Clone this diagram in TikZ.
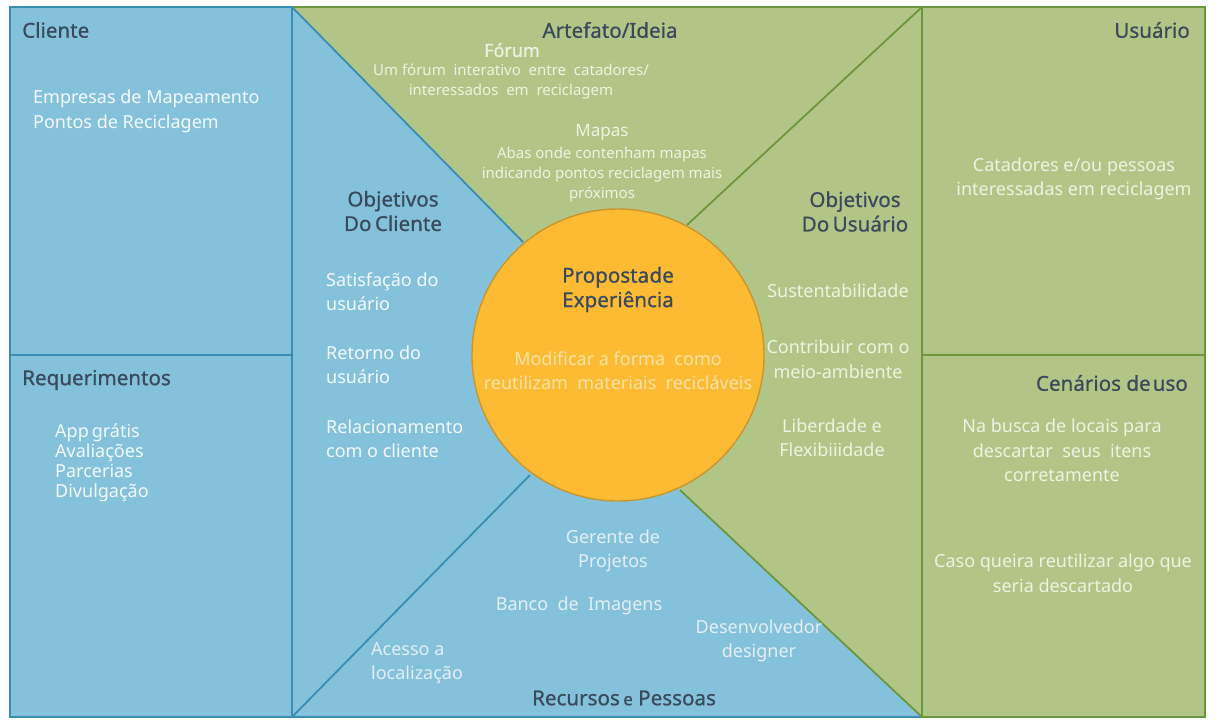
\documentclass[tikz,border=0pt]{standalone}
\usepackage{fontspec}
\setmainfont{Noto Sans}
\newfontfamily\headfont[FakeBold=0.7]{Noto Sans}
\definecolor{bluefill}{HTML}{84C2DB}
\definecolor{blueline}{HTML}{3A8DB3}
\definecolor{greenfill}{HTML}{B1C686}
\definecolor{greenline}{HTML}{6E963C}
\definecolor{orangefill}{HTML}{FDBB34}
\definecolor{orangeline}{HTML}{C9962E}
\definecolor{headc}{HTML}{3A4A5C}
\definecolor{wtxt}{HTML}{F5F9FB}
\definecolor{gtxt}{HTML}{EEF2E2}
\definecolor{btxt}{HTML}{E4EEF3}
\definecolor{otxt}{HTML}{F7E3A8}
\begin{document}
\begin{tikzpicture}[x=1pt,y=-1pt,
  head/.style={text=headc,font=\headfont\fontsize{20.6}{24.5}\selectfont,inner sep=0pt,align=center},
  bodyw/.style={text=wtxt,font=\fontsize{18}{24.5}\selectfont,inner sep=0pt,align=left},
  bodyg/.style={text=gtxt,font=\fontsize{18}{24.5}\selectfont,inner sep=0pt,align=center},
  bodyb/.style={text=btxt,font=\fontsize{18}{24.5}\selectfont,inner sep=0pt,align=center},
  smallg/.style={text=gtxt,font=\fontsize{15}{20}\selectfont,inner sep=0pt,align=center},
  bline/.style={draw=blueline,line width=1.8pt},
  gline/.style={draw=greenline,line width=1.8pt}]
\useasboundingbox (0,0) rectangle (1216,724);
\fill[white] (0,0) rectangle (1216,724);
% key points
\coordinate (TL) at (292,7);
\coordinate (TR) at (922,7);
\coordinate (BL) at (292,717);
\coordinate (BR) at (922,717);
\coordinate (C) at (618,355);
\coordinate (a) at (523,242);
\coordinate (b) at (687,225);
\coordinate (c) at (530,475);
\coordinate (d) at (680,490);
% fills
\fill[bluefill] (10,7) rectangle (292,717);
\fill[greenfill] (922,7) rectangle (1205,717);
\fill[greenfill] (TL) -- (TR) -- (b) -- (C) -- (a) -- cycle;
\fill[greenfill] (TR) -- (BR) -- (d) -- (C) -- (b) -- cycle;
\fill[bluefill] (TL) -- (a) -- (C) -- (c) -- (BL) -- cycle;
\fill[bluefill] (BL) -- (c) -- (C) -- (d) -- (BR) -- cycle;
% lines
\draw[gline] (TL) -- (TR);
\draw[bline] (BL) -- (BR);
\draw[bline] (10,7) rectangle (292,717);
\draw[bline] (10,355) -- (292,355);
\draw[gline] (922,7) rectangle (1205,717);
\draw[gline] (922,355) -- (1205,355);
\draw[bline] (TL) -- (a);
\draw[bline] (BL) -- (c);
\draw[gline] (TR) -- (b);
\draw[gline] (BR) -- (d);
% circle
\node[circle,fill=orangefill,draw=orangeline,line width=1.4pt,minimum size=292pt,inner sep=0pt] (prop) at (C) {};
% left column
\node[head,anchor=west] (cliente) at (22,30) {Cliente};
\node[bodyw,anchor=west] (emp) at (33,111.5) {Empresas de Mapeamento\\Pontos de Reciclagem};
\node[head,anchor=west] (req) at (22,380) {Requerimentos};
\node[bodyw,anchor=west,font=\fontsize{18}{20}\selectfont] (reqs) at (55,463) {App\,grátis\\Avaliações\\Parcerias\\Divulgação};
% top
\node[head] (art) at (610,30) {Artefato/Ideia};
\node[smallg,font=\fontsize{18}{20}\selectfont\headfont] (forum) at (512,50) {Fórum};
\node[smallg] (forumd) at (511,82) {Um fórum\ \ interativo\ \ entre\ \ catadores/\\interessados\ \ em\ \ reciclagem};
\node[smallg,font=\fontsize{17}{20}\selectfont] (mapas) at (602,132) {Mapas};
\node[smallg] (mapasd) at (602,175) {Abas onde contenham mapas\\indicando pontos reciclagem mais\\próximos};
% left triangle
\node[head] (objc) at (393,211) {Objetivos\\Do\,Cliente};
\node[bodyw,anchor=west] (sat) at (326,291.5) {Satisfação do\\usuário};
\node[bodyw,anchor=west] (ret) at (326,364.5) {Retorno do\\usuário};
\node[bodyw,anchor=west] (rel) at (326,438.5) {Relacionamento\\com o cliente};
% circle text
\node[head] (propt) at (618,289.5) {Proposta\hspace{0.02em}de\\Experiência};
\node[bodyg,text=otxt] (mod) at (618,370.5) {Modificar a forma\ \ como\\reutilizam\ \ materiais\ \ recicláveis};
% right triangle
\node[head] (obju) at (855,211.5) {Objetivos\\Do\,Usuário};
\node[bodyg] (sus) at (838,291) {Sustentabilidade};
\node[bodyg] (con) at (838,359) {Contribuir com o\\meio-ambiente};
\node[bodyg] (lib) at (832,437.5) {Liberdade e\\Flexibiiidade};
% right column
\node[head,anchor=east] (usu) at (1190,30) {Usuário};
\node[bodyg] (cat) at (1074,179) {Catadores e/ou pessoas\\interessadas em reciclagem};
\node[head,anchor=east] (cen) at (1188,383) {Cenários de\hspace{0.1em}uso};
\node[bodyg] (na) at (1062,450.5) {Na busca de locais para\\descartar\ \ seus\ \ itens\\corretamente};
\node[bodyg] (caso) at (1063,573) {Caso queira reutilizar algo que\\seria descartado};
% bottom
\node[bodyb] (ger) at (613,551) {Gerente de\\Projetos};
\node[bodyb] (ban) at (579,606) {Banco\ \ de\ \ Imagens};
\node[bodyb] (des) at (759,641) {Desenvolvedor\\designer};
\node[bodyb,align=left,anchor=west] (ace) at (371,663) {Acesso a\\localização};
\node[head] (rec) at (624,698) {Recursos\,{\fontsize{17}{20}\selectfont e} Pessoas};
\end{tikzpicture}
\end{document}
